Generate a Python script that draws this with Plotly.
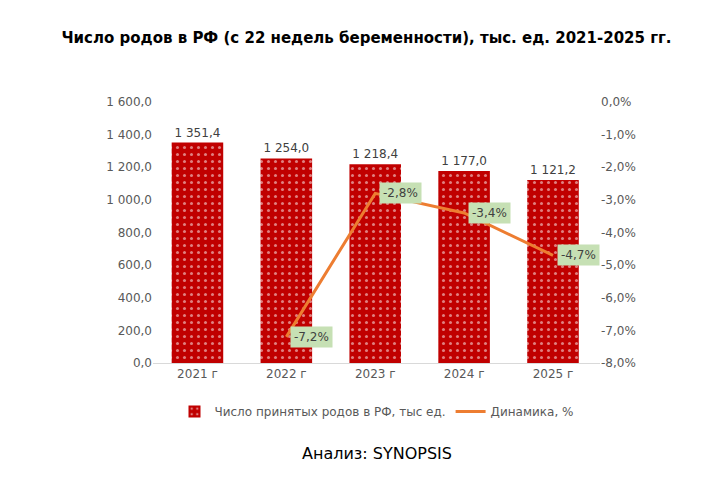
import plotly.graph_objects as go

years = ["2021 г", "2022 г", "2023 г", "2024 г", "2025 г"]
births = [1351.4, 1254.0, 1218.4, 1177.0, 1121.2]
dyn_years = ["2022 г", "2023 г", "2024 г", "2025 г"]
dynamics = [-7.2, -2.8, -3.4, -4.7]
pct_ticks = [0, -1, -2, -3, -4, -5, -6, -7, -8]


def ru(v):
    return f"{v:,.1f}".replace(",", " ").replace(".", ",")


def pct(v):
    return f"{v:.1f}%".replace(".", ",")


fig = go.Figure()
fig.add_trace(go.Bar(
    x=years, y=births, name="Число принятых родов в РФ, тыс ед.",
    marker=dict(color="#c00000", line=dict(width=0),
                pattern=dict(shape=".", fgcolor="white", size=7, solidity=0.15)),
    text=[ru(v) for v in births], textposition="outside", cliponaxis=False,
    textfont=dict(color="#404040", size=12), width=0.58,
))
fig.add_trace(go.Scatter(
    x=dyn_years, y=dynamics, name="Динамика, %", yaxis="y2",
    mode="lines", line=dict(color="#ed7d31", width=3),
))
for x, v in zip(dyn_years, dynamics):
    fig.add_annotation(x=x, y=v, yref="y2", text=pct(v),
                       showarrow=False, xanchor="left", xshift=4, bgcolor="#c6e0b4",
                       borderpad=3, font=dict(color="#404040", size=12))

fig.update_layout(
    width=717, height=482, plot_bgcolor="white", paper_bgcolor="white",
    font=dict(family="DejaVu Sans", color="#595959", size=12),
    title=dict(text="<b>Число родов в РФ (с 22 недель беременности), тыс. ед. 2021-2025 гг.</b>",
               x=0.5, y=0.95, font=dict(size=15, color="black")),
    margin=dict(l=145, r=125, t=94, b=127),
    xaxis=dict(showline=True, linecolor="#d9d9d9", ticks=""),
    yaxis=dict(range=[0, 1600], dtick=200, tickformat=",.1f",
               showgrid=False, zeroline=False),
    yaxis2=dict(range=[-8, 0], overlaying="y", side="right", showgrid=False,
                tickvals=pct_ticks, ticktext=[pct(v) for v in pct_ticks], zeroline=False),
    separators=", ",
    showlegend=True,
    legend=dict(orientation="h", x=0.5, xanchor="center", y=-0.13, font=dict(size=12)),
)
fig.add_annotation(text="Анализ: SYNOPSIS", xref="paper", yref="paper", x=0.5, y=-0.39,
                   showarrow=False, font=dict(size=16, color="black"))
fig.write_html("out.html")
